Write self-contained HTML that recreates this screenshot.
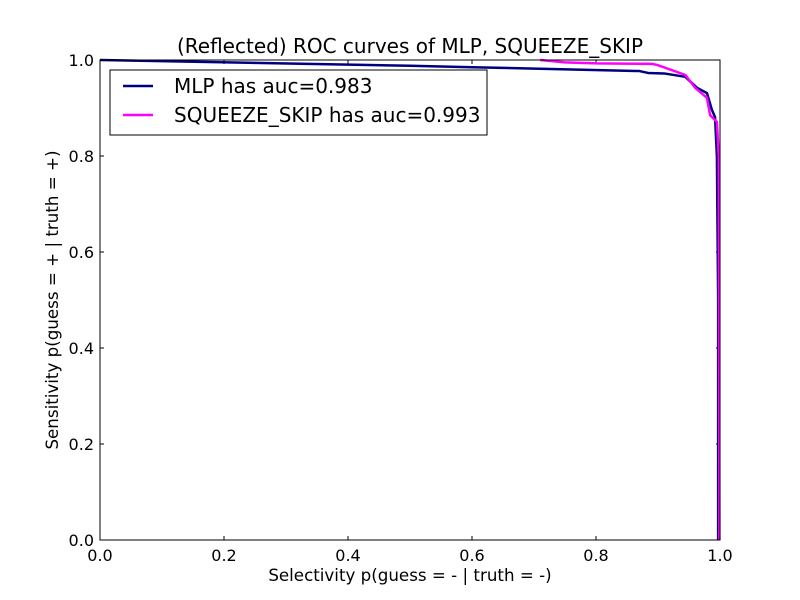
<!DOCTYPE html>
<html><head><meta charset="utf-8"><style>
body{margin:0;background:#fff}
svg{display:block}
text{font-family:"DejaVu Sans","Liberation Sans",sans-serif;fill:#000}
</style></head><body>
<svg id="chart" width="800" height="600" viewBox="0 0 800 600" xmlns="http://www.w3.org/2000/svg">
<rect width="800" height="600" fill="#fff"/>
<text x="410" y="53" font-size="20" text-anchor="middle">(Reflected) ROC curves of MLP, SQUEEZE_SKIP</text>
<g id="ticks"></g>
<g id="series"></g>
<rect x="100" y="60" width="620" height="480" fill="none" stroke="#000" stroke-width="1"/>
<text x="410" y="581" font-size="16.7" text-anchor="middle">Selectivity p(guess = - | truth = -)</text>
<text transform="translate(58,300) rotate(-90)" font-size="16.7" text-anchor="middle">Sensitivity p(guess = + | truth = +)</text>
<g>
<rect x="110" y="70" width="377" height="65" fill="#fff" stroke="#000" stroke-width="1"/>
<line x1="123" y1="86" x2="153" y2="86" stroke="#000080" stroke-width="2.5"/>
<text x="174" y="93" font-size="20">MLP has auc=0.983</text>
<line x1="123" y1="115" x2="153" y2="115" stroke="#ff00ff" stroke-width="2.5"/>
<text x="174" y="122" font-size="20">SQUEEZE_SKIP has auc=0.993</text>
</g>
</svg>
<script>
const xTicks=[0,0.2,0.4,0.6,0.8,1.0];
const yTicks=[0,0.2,0.4,0.6,0.8,1.0];
const mlpX=[0,0.5,0.6,0.87,0.884,0.91,0.944,0.963,0.979,0.987,0.992,0.995,0.997,0.997];
const mlpY=[1,0.988,0.985,0.977,0.973,0.972,0.965,0.942,0.931,0.896,0.881,0.8,0.5,0];
const sqX=[0.71,0.75,0.8,0.89,0.898,0.944,0.96,0.979,0.984,0.995,0.998,0.999];
const sqY=[1,0.995,0.993,0.992,0.99,0.969,0.942,0.921,0.885,0.871,0.8,0];
const X0=100,X1=720,Y0=540,Y1=60;
const sx=v=>X0+v*(X1-X0), sy=v=>Y0-v*(Y0-Y1);
const NS="http://www.w3.org/2000/svg";
const tg=document.getElementById('ticks'), sg=document.getElementById('series');
function mk(tag,attrs,parent){const e=document.createElementNS(NS,tag);for(const k in attrs)e.setAttribute(k,attrs[k]);parent.appendChild(e);return e;}
xTicks.forEach(v=>{
 const x=sx(v);
 const t1=mk('line',{x1:x,y1:Y0,x2:x,y2:Y0-4,stroke:'#000'},tg);
 
 
 const t2=mk('line',{x1:x,y1:Y1,x2:x,y2:Y1+4,stroke:'#000'},tg);
 
 
 const l=mk('text',{x:x,y:Y0+21,'font-size':16,'text-anchor':'middle'},tg);
 l.textContent=v.toFixed(1);
 
 
});
yTicks.forEach(v=>{
 const y=sy(v);
 const t1=mk('line',{x1:X0,y1:y,x2:X0+4,y2:y,stroke:'#000'},tg);
 
 
 const t2=mk('line',{x1:X1,y1:y,x2:X1-4,y2:y,stroke:'#000'},tg);
 
 
 const l=mk('text',{x:X0-6,y:y+6,'font-size':16,'text-anchor':'end'},tg);
 l.textContent=v.toFixed(1);
 
 
});
function pts(xs,ys){return xs.map((v,i)=>sx(v)+','+sy(ys[i])).join(' ');}
const m=mk('polyline',{points:pts(mlpX,mlpY),fill:'none',stroke:'#000080','stroke-width':2.5,'stroke-linejoin':'round'},sg);


const s=mk('polyline',{points:pts(sqX,sqY),fill:'none',stroke:'#ff00ff','stroke-width':2.5,'stroke-linejoin':'round'},sg);


</script>
</body></html>
